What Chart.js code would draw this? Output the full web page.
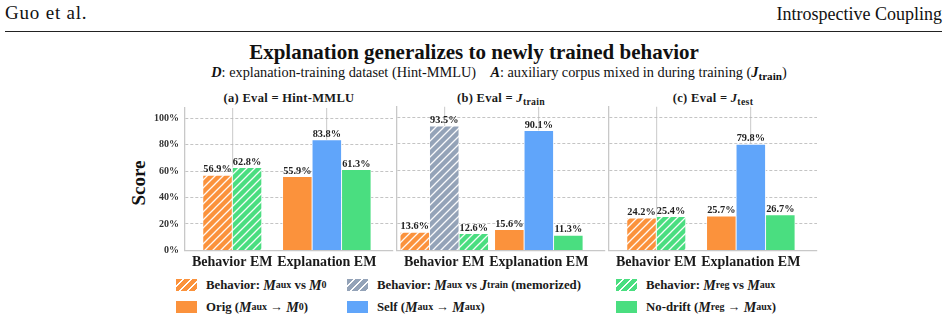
<!DOCTYPE html>
<html><head><meta charset="utf-8">
<script src="https://cdn.jsdelivr.net/npm/chart.js@4.4.1/dist/chart.umd.min.js"></script>
<style>
body{margin:0;background:#fff;}
#root{position:relative;width:948px;height:322px;overflow:hidden;font-family:"Liberation Serif","Times New Roman",serif;color:#111;}
.abs{position:absolute;white-space:nowrap;}
sub{font-size:0.78em;vertical-align:-0.3em;line-height:0;font-style:normal;}
.m{font-style:italic;font-size:1.1em;}
canvas{position:absolute;}
.ptitle{position:absolute;width:208px;text-align:center;font-weight:bold;font-size:12.5px;line-height:14px;top:91px;letter-spacing:0.3px;color:#1a1a1a;}
.leg{position:absolute;display:flex;align-items:center;font-weight:bold;font-size:12.8px;line-height:14px;color:#1a1a1a;white-space:nowrap;}
.sw{width:23px;height:14px;margin-right:8px;box-sizing:border-box;border:0.5px solid #fff;}
</style></head>
<body><div id="root">
<div class="abs" style="left:5px;top:3px;font-size:19px;line-height:20px;letter-spacing:0.8px;">Guo et al.</div>
<div class="abs" style="right:6px;top:4px;font-size:18px;line-height:20px;">Introspective Coupling</div>
<div class="abs" style="left:5px;top:31px;width:937px;height:1px;background:#222;"></div>
<div class="abs" style="left:0;width:948px;text-align:center;top:41px;font-size:21px;line-height:22px;font-weight:bold;">Explanation generalizes to newly trained behavior</div>
<div class="abs" style="left:499px;transform:translateX(-50%);top:65px;font-size:14.3px;line-height:15px;"><b><i>D</i></b>: explanation-training dataset (Hint-MMLU)&nbsp;&nbsp;&nbsp;&nbsp;<b><i>A</i></b>: auxiliary corpus mixed in during training (<b><i>J</i></b><sub><b>train</b></sub>)</div>
<div class="abs" style="left:139px;top:183px;transform:translate(-50%,-50%) rotate(-90deg);font-size:19px;font-weight:bold;line-height:20px;">Score</div>
<div class="ptitle" style="left:185px;">(a) Eval = Hint-MMLU</div>
<div class="ptitle" style="left:397px;">(b) Eval = <i>J</i><sub>train</sub></div>
<div class="ptitle" style="left:609px;">(c) Eval = <i>J</i><sub>test</sub></div>
<canvas id="c0" width="262" height="176" style="left:135px;top:96px;"></canvas>
<canvas id="c1" width="262" height="176" style="left:347px;top:96px;"></canvas>
<canvas id="c2" width="262" height="176" style="left:559px;top:96px;"></canvas>
<div class="leg" style="left:175px;top:278px;"><div class="sw" style="background:repeating-linear-gradient(135deg,#FB923C 0 4.3px,#fff 4.3px 5.66px);"></div>Behavior:&nbsp;<span class="m">M</span><sub>aux</sub>&nbsp;vs&nbsp;<span class="m">M</span><sub>0</sub></div>
<div class="leg" style="left:346px;top:278px;"><div class="sw" style="background:repeating-linear-gradient(135deg,#94A3B8 0 4.3px,#fff 4.3px 5.66px);"></div>Behavior:&nbsp;<span class="m">M</span><sub>aux</sub>&nbsp;vs&nbsp;<span class="m">J</span><sub>train</sub>&nbsp;(memorized)</div>
<div class="leg" style="left:615px;top:278px;"><div class="sw" style="background:repeating-linear-gradient(135deg,#4ADE80 0 4.3px,#fff 4.3px 5.66px);"></div>Behavior:&nbsp;<span class="m">M</span><sub>reg</sub>&nbsp;vs&nbsp;<span class="m">M</span><sub>aux</sub></div>
<div class="leg" style="left:175px;top:300px;"><div class="sw" style="background:#FB923C;"></div>Orig (<span class="m">M</span><sub>aux</sub>&nbsp;→&nbsp;<span class="m">M</span><sub>0</sub>)</div>
<div class="leg" style="left:346px;top:300px;"><div class="sw" style="background:#60A5FA;"></div>Self (<span class="m">M</span><sub>aux</sub>&nbsp;→&nbsp;<span class="m">M</span><sub>aux</sub>)</div>
<div class="leg" style="left:615px;top:300px;"><div class="sw" style="background:#4ADE80;"></div>No-drift (<span class="m">M</span><sub>reg</sub>&nbsp;→&nbsp;<span class="m">M</span><sub>aux</sub>)</div>
</div>
<script>
// ---- data ----
const categories = ['Behavior EM', 'Explanation EM'];
// values per panel: [(a) Hint-MMLU, (b) J_train, (c) J_test]
const behaviorAuxVsBase  = [56.9, 13.6, 24.2];
const behaviorAuxVsTrain = [null, 93.5, null];
const behaviorRegVsAux   = [62.8, 12.6, 25.4];
const explainOrig        = [55.9, 15.6, 25.7];
const explainSelf        = [83.8, 90.1, 79.8];
const explainNoDrift     = [61.3, 11.3, 26.7];
const yTicks = [0, 20, 40, 60, 80, 100];
const yMax = 108;

// ---- styles ----
const ORANGE = '#FB923C', SLATE = '#94A3B8', GREEN = '#4ADE80', BLUE = '#60A5FA';
const seriesDefs = [
  {values: behaviorAuxVsBase,  cat: 0, color: ORANGE, hatched: true},
  {values: behaviorAuxVsTrain, cat: 0, color: SLATE,  hatched: true},
  {values: behaviorRegVsAux,   cat: 0, color: GREEN,  hatched: true},
  {values: explainOrig,        cat: 1, color: ORANGE, hatched: false},
  {values: explainSelf,        cat: 1, color: BLUE,   hatched: false},
  {values: explainNoDrift,     cat: 1, color: GREEN,  hatched: false}
];

function hatch(ctx, color) {
  const s = 8, c = document.createElement('canvas');
  c.width = s; c.height = s;
  const g = c.getContext('2d');
  g.fillStyle = color; g.fillRect(0, 0, s, s);
  g.strokeStyle = 'rgba(255,255,255,0.95)'; g.lineWidth = 1.3;
  g.beginPath();
  g.moveTo(-1, s + 1); g.lineTo(s + 1, -1);
  g.moveTo(-1, 1); g.lineTo(1, -1);
  g.moveTo(s - 1, s + 1); g.lineTo(s + 1, s - 1);
  g.stroke();
  return ctx.createPattern(c, 'repeat');
}

const valueLabels = {
  id: 'valueLabels',
  afterDatasetsDraw(chart) {
    const ctx = chart.ctx;
    ctx.save();
    ctx.font = 'bold 10.3px "Liberation Serif"';
    ctx.fillStyle = '#222';
    ctx.textAlign = 'center';
    ctx.textBaseline = 'alphabetic';
    chart.data.datasets.forEach((ds, di) => {
      const meta = chart.getDatasetMeta(di);
      meta.data.forEach((el, i) => {
        const v = ds.data[i].y;
        if (v === null || v === undefined) return;
        ctx.fillText(v.toFixed(1) + '%', el.x, el.y - 3);
      });
    });
    ctx.restore();
  }
};

const fontFam = '"Liberation Serif", "Times New Roman", serif';

for (let p = 0; p < 3; p++) {
  const canvas = document.getElementById('c' + p);
  const ctx = canvas.getContext('2d');
  const datasets = seriesDefs.map(s => ({
    data: categories.map((_, ci) => ({x: ci, y: ci === s.cat ? s.values[p] : null})),
    backgroundColor: s.hatched ? hatch(ctx, s.color) : s.color,
    borderColor: '#ffffff',
    borderWidth: 0.8,
    barThickness: 29.5,
    skipNull: true,
    grouped: true
  }));
  new Chart(ctx, {
    type: 'bar',
    data: {datasets},
    options: {
      responsive: false,
      animation: false,
      devicePixelRatio: 1,
      layout: {padding: {top: 10.7, right: 4, bottom: 0, left: 0}},
      plugins: {legend: {display: false}, tooltip: {enabled: false}, title: {display: false}},
      scales: {
        x: {
          type: 'linear', min: -0.5, max: 1.7, offset: false,
          afterBuildTicks: s => { s.ticks = categories.map((_, i) => ({value: i})); },
          afterFit: s => { s.height = 21.7; },
          ticks: {
            callback: v => categories[v],
            autoSkip: false, maxRotation: 0, minRotation: 0, padding: 4,
            font: {family: fontFam, size: 14, weight: 'bold'}, color: '#1a1a1a'
          },
          grid: {offset: false, drawTicks: false, color: '#d2d2d2', lineWidth: 1.2},
          border: {display: true, color: '#c8c8c8', width: 1.3}
        },
        y: {
          min: 0, max: yMax,
          afterBuildTicks: s => { s.ticks = yTicks.map(v => ({value: v})); },
          afterFit: s => { s.width = 50; },
          ticks: {
            display: p === 0,
            callback: v => v + '%',
            padding: 6,
            font: {family: fontFam, size: 10, weight: 'bold'}, color: '#333'
          },
          grid: {
            drawTicks: false,
            color: c => (c.tick && c.tick.value === 0) ? 'rgba(0,0,0,0)' : '#b5b5b5',
            lineWidth: 0.8
          },
          border: {display: true, color: '#c8c8c8', width: 1.3, dash: [3, 2]}
        }
      }
    },
    plugins: [valueLabels]
  });
}
</script>
</body></html>
